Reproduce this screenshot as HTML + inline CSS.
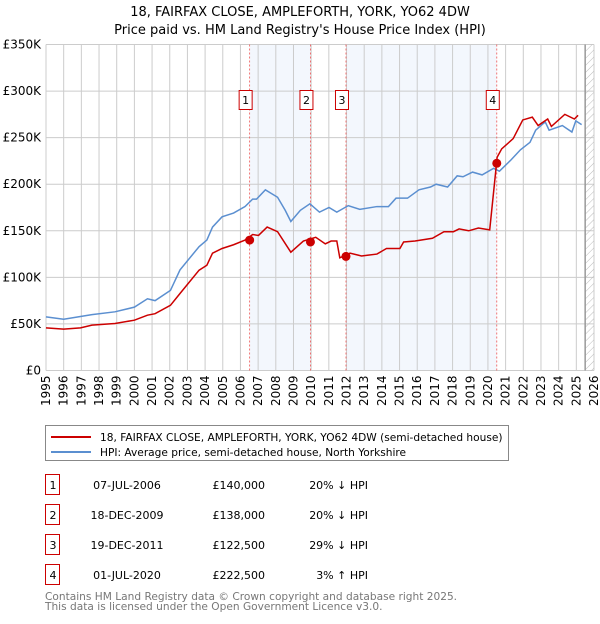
<!DOCTYPE html>
<html><head><meta charset="utf-8"><style>
body{margin:0;background:#fff;font-family:"DejaVu Sans","Liberation Sans",sans-serif;}
svg text{font-family:"DejaVu Sans","Liberation Sans",sans-serif;}
</style></head><body>
<svg id="c" width="600" height="620" xmlns="http://www.w3.org/2000/svg">
<defs><pattern id="hatch" width="5" height="5" patternUnits="userSpaceOnUse" patternTransform="rotate(45)"><line x1="0" y1="0" x2="0" y2="5" stroke="#bbb" stroke-width="1"/></pattern></defs>
<text x="300" y="16" text-anchor="middle" font-size="13">18, FAIRFAX CLOSE, AMPLEFORTH, YORK, YO62 4DW</text>
<text x="300" y="34" text-anchor="middle" font-size="13">Price paid vs. HM Land Registry's House Price Index (HPI)</text>
<g id="plot"></g>
<g>
<rect x="45.5" y="425.5" width="463" height="35" fill="#fff" stroke="#888"/>
<line x1="51" y1="437" x2="91" y2="437" stroke="#cc0000" stroke-width="2"/>
<text x="100" y="441" font-size="10.6">18, FAIRFAX CLOSE, AMPLEFORTH, YORK, YO62 4DW (semi-detached house)</text>
<line x1="51" y1="452" x2="91" y2="452" stroke="#5b8fd0" stroke-width="2"/>
<text x="100" y="456" font-size="10.6">HPI: Average price, semi-detached house, North Yorkshire</text>
</g>
<g id="table" font-size="11"></g>
<text x="45" y="600" font-size="10.6" fill="#777">Contains HM Land Registry data © Crown copyright and database right 2025.</text>
<text x="45" y="610" font-size="10.6" fill="#777">This data is licensed under the Open Government Licence v3.0.</text>
</svg>
<script>
const yTicks=[0,50,100,150,200,250,300,350];
const yTickLabels=["£0","£50K","£100K","£150K","£200K","£250K","£300K","£350K"];
const years=[1995,1996,1997,1998,1999,2000,2001,2002,2003,2004,2005,2006,2007,2008,2009,2010,2011,2012,2013,2014,2015,2016,2017,2018,2019,2020,2021,2022,2023,2024,2025,2026];
const hpiX=[0,1,1.95,2.6,3.9,5,5.74,6.17,7.04,7.58,8.66,9.1,9.42,9.96,10.61,11.26,11.69,11.91,12.41,13.1,13.53,13.85,14.39,14.93,15.47,16.01,16.45,17.1,17.75,18.72,19.37,19.8,20.45,21.1,21.75,22.07,22.72,23.26,23.59,24.13,24.67,25.32,25.65,26.3,26.84,27.38,27.7,28.24,28.46,29.21,29.75,29.97,30.3];
const hpiV=[57.6,55,58,60,63,68,77,75,86,108,133,140,154,165,169,176,184,184,194,186,172,160,172,179,170,175,170,177,173,176,176,185,185,194,197,200,197,209,208,213,210,217,214,226,237,245,258,267,258,263,256,268,264,268];
const ppX=[0,1,1.95,2.6,3.9,5,5.74,6.17,7.04,7.58,8.66,9.1,9.42,9.96,10.61,11.26,11.69,12.02,12.51,13.1,13.85,14.56,15.26,15.8,16.13,16.45,16.62,17.2,17.85,18.72,19.26,20.02,20.23,20.88,21.86,22.51,23.05,23.37,23.91,24.46,25.1,25.49,25.52,25.78,26.43,26.97,27.51,27.84,28.38,28.59,29.35,29.89,30.1,30.43];
const ppV=[45.8,44.4,45.8,48.7,50.5,54,59.4,61,70,82.7,107.7,113,126,131,135,140,146,145,154,149,127,139,143,136,139,139,121,126,123,125,131,131,138,139,142,149,149,152,150,153,151,223,229,238,249,269,272,263,270,262,275,270,274];
const saleYears=[2006.52,2009.96,2011.97,2020.5];
const saleVals=[140,138,122.5,222.5];
const saleLabels=["1","2","3","4"];
const saleDates=["07-JUL-2006","18-DEC-2009","19-DEC-2011","01-JUL-2020"];
const salePrices=["£140,000","£138,000","£122,500","£222,500"];
const saleHpi=["20% ↓ HPI","20% ↓ HPI","29% ↓ HPI","3% ↑ HPI"];

const L=46,R=594,T=44.5,B=370.5,NS="http://www.w3.org/2000/svg";
const X=y=>L+(y-1995)/(2026-1995)*(R-L);
const Y=v=>B-v/350*(B-T);
const g=document.getElementById('plot');
function mk(tag,attrs,parent){const e=document.createElementNS(NS,tag);for(const k in attrs)e.setAttribute(k,attrs[k]);(parent||g).appendChild(e);return e;}
[[0,1],[2,3]].forEach((p,i)=>{const r=mk('rect',{x:X(saleYears[p[0]]),y:T,width:X(saleYears[p[1]])-X(saleYears[p[0]]),height:B-T,fill:'#eef3fc',opacity:0.7});

});
years.forEach(yr=>{const l=mk('line',{x1:X(yr),x2:X(yr),y1:T,y2:B,stroke:'#ccc','stroke-width':1});


const t=mk('text',{x:0,y:0,'font-size':12,'text-anchor':'end',transform:`translate(${X(yr)+4},${B+5}) rotate(-90)`});
t.textContent=yr;

});
yTicks.forEach((v,i)=>{const l=mk('line',{x1:L,x2:R,y1:Y(v),y2:Y(v),stroke:'#ccc','stroke-width':1});


const t=mk('text',{x:L-5,y:Y(v)+4,'font-size':12,'text-anchor':'end'});
t.textContent=yTickLabels[i];

});
const h=mk('rect',{x:X(2025.5),y:T,width:R-X(2025.5),height:B-T,fill:'url(#hatch)'});


mk('line',{x1:X(2025.5),x2:X(2025.5),y1:T,y2:B,stroke:'#999','stroke-width':1.5});
saleYears.forEach((s,i)=>{const l=mk('line',{x1:X(s),x2:X(s),y1:T,y2:B,stroke:'#e55','stroke-width':0.8,'stroke-dasharray':'2,2'});

});
const hp=mk('polyline',{points:hpiX.map((x,i)=>X(1995+x)+','+Y(hpiV[i])).join(' '),fill:'none',stroke:'#5b8fd0','stroke-width':1.5});


const pp=mk('polyline',{points:ppX.map((x,i)=>X(1995+x)+','+Y(ppV[i])).join(' '),fill:'none',stroke:'#cc0000','stroke-width':1.5});


saleYears.forEach((s,i)=>{const c=mk('circle',{cx:X(s),cy:Y(saleVals[i]),r:4.5,fill:'#cc0000'});


const bx=X(s)-4;
const r=mk('rect',{x:bx-6.5,y:90.5,width:13,height:19,fill:'#fff',stroke:'#cc0000'});


const t=mk('text',{x:bx,y:104,'font-size':11,'text-anchor':'middle'});
t.textContent=saleLabels[i];

});
const tb=document.getElementById('table');
saleDates.forEach((d,i)=>{const y=483+i*30;
const r=mk('rect',{x:45.5,y:y-8.5,width:14,height:20,fill:'#fff',stroke:'#cc0000'},tb);


const cells=[[53,'middle',saleLabels[i],'table-row-index'],[127,'middle',d,'table-row-date'],[265,'end',salePrices[i],'table-row-price'],[368,'end',saleHpi[i],'table-row-hpi']];
cells.forEach(c=>{const t=mk('text',{x:c[0],y:y+6,'text-anchor':c[1]},tb);
t.textContent=c[2];

});});
</script>
</body></html>
